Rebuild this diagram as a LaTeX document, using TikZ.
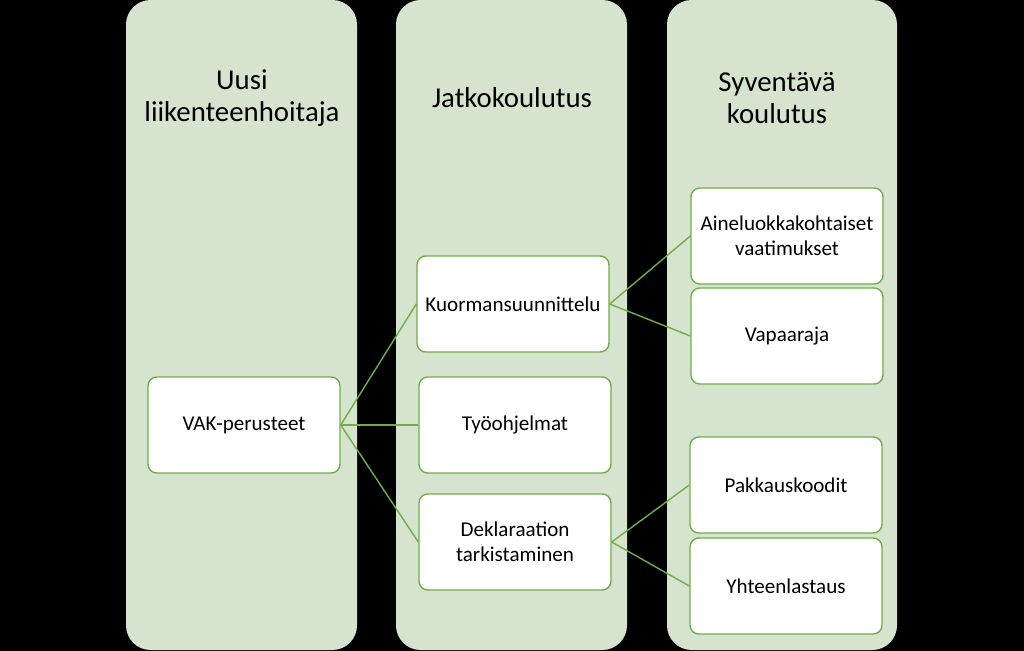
\documentclass[tikz,border=0pt]{standalone}
\usepackage{fontspec}
\setmainfont{Carlito}
\definecolor{sarake}{RGB}{214,227,207}
\definecolor{vihrea}{RGB}{112,173,71}
\begin{document}
\begin{tikzpicture}[x=0.02cm, y=-0.02cm,
	laatikko/.style={draw=vihrea, fill=white, line width=0.8pt, rounded corners=5pt,
		minimum width=192*0.02cm, minimum height=96*0.02cm, align=center, font=\fontsize{12}{14}\selectfont, inner sep=1pt},
	otsikko/.style={align=center, font=\fontsize{16.4}{18.6}\selectfont},
	yhteys/.style={draw=vihrea, line width=0.8pt}]
	\fill[black] (0,0) rectangle (1024,651);
	\useasboundingbox (0,0) rectangle (1024,651);
	
	% --- sarakkeet ---
	\foreach \xa/\xb in {126/357, 396/627, 667/897} {
		\fill[sarake, rounded corners=14pt] (\xa,0) rectangle (\xb,650);
	}
	
	\node[otsikko] (t1) at (242,98) {Uusi\\liikenteenhoitaja};
	\node[otsikko] (t2) at (512,98) {Jatkokoulutus};
	\node[otsikko] (t3) at (777,98) {Syventävä\\koulutus};
	
	% --- laatikot ---
	\node[laatikko] (vak) at (244,425) {VAK-perusteet};
	\node[laatikko] (kuorma) at (513,304) {Kuormansuunnittelu};
	\node[laatikko] (tyo) at (515,425) {Työohjelmat};
	\node[laatikko] (dekl) at (515,542) {Deklaraation\\tarkistaminen};
	\node[laatikko] (aine) at (787,236) {Aineluokkakohtaiset\\vaatimukset};
	\node[laatikko] (vapaa) at (787,336) {Vapaaraja};
	\node[laatikko] (pakk) at (786,485) {Pakkauskoodit};
	\node[laatikko] (yht) at (786,586) {Yhteenlastaus};
	
	% --- yhteydet ---
	\foreach \b in {kuorma, tyo, dekl} {
		\draw[yhteys] (vak.east) -- (\b.west);
	}
	\foreach \b in {aine, vapaa} {
		\draw[yhteys] (kuorma.east) -- (\b.west);
	}
	\foreach \b in {pakk, yht} {
		\draw[yhteys] (dekl.east) -- (\b.west);
	}
\end{tikzpicture}
\end{document}
